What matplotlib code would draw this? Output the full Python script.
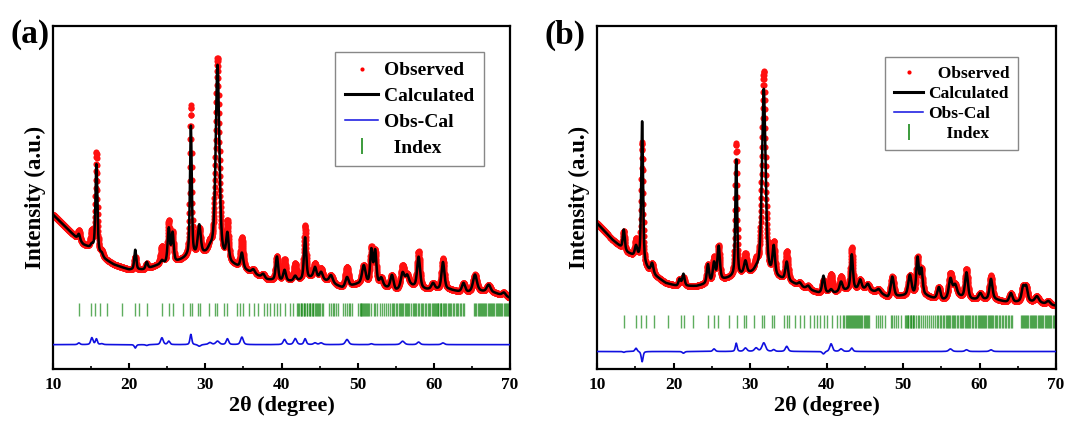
import numpy as np
import matplotlib
matplotlib.use("Agg")
import matplotlib.pyplot as plt
from matplotlib.lines import Line2D

plt.rcParams['font.family'] = ['Liberation Serif', 'DejaVu Serif']
plt.rcParams['font.weight'] = 'bold'

# ---------------- data (intensity in arbitrary units, 0..1 of plot height)
# Panel (a)
bg_a_x = [10, 12, 14, 15.3, 16.5, 18, 20, 22, 24, 26, 27.5, 30, 31, 33.5, 36, 38, 40, 42, 44, 46, 48, 50, 53, 55, 57, 59, 62, 64, 66, 68, 70]
bg_a_y = [0.450, 0.406, 0.362, 0.348, 0.323, 0.304, 0.289, 0.289, 0.304, 0.309, 0.323, 0.333, 0.338, 0.304, 0.280, 0.260, 0.255, 0.255, 0.265, 0.255, 0.236, 0.246, 0.241, 0.226, 0.241, 0.231, 0.231, 0.221, 0.226, 0.221, 0.207]
pk_a_pos = [13.4, 15.1, 15.7, 16.4, 20.8, 22.3, 24.3, 25.2, 25.7, 28.1, 29.2, 30.6, 31.6, 32.9, 34.8, 36.3, 37.6, 39.4, 40.4, 41.8, 43.1, 44.4, 45.2, 46.5, 48.6, 50.8, 51.8, 52.3, 53.1, 54.5, 55.9, 56.5, 58.0, 59.9, 61.2, 63.9, 65.4, 67.2, 69.2]
pk_a_calc = [0.018, 0.010, 0.257, 0.010, 0.058, 0.020, 0.010, 0.100, 0.085, 0.380, 0.085, 0.010, 0.555, 0.075, 0.045, 0.012, 0.012, 0.070, 0.032, 0.015, 0.122, 0.032, 0.022, 0.022, 0.028, 0.055, 0.100, 0.098, 0.022, 0.042, 0.045, 0.032, 0.090, 0.018, 0.080, 0.028, 0.050, 0.022, 0.010]
pk_a_obs_extra = [0.010, 0.040, 0.033, 0.005, -0.020, -0.005, 0.040, 0.020, 0.000, 0.060, -0.010, 0.012, 0.020, 0.034, 0.044, 0.000, 0.000, 0.000, 0.030, 0.035, 0.034, 0.010, 0.010, 0.000, 0.030, 0.000, 0.005, 0.000, 0.000, 0.000, 0.020, 0.000, 0.015, 0.000, 0.010, 0.000, 0.000, 0.000, 0.000]
pk_a_fwhm = [0.35, 0.35, 0.30, 0.40, 0.30, 0.35, 0.40, 0.35, 0.35, 0.28, 0.45, 0.50, 0.55, 0.38, 0.42, 0.50, 0.50, 0.38, 0.42, 0.45, 0.36, 0.45, 0.50, 0.55, 0.50, 0.55, 0.38, 0.38, 0.50, 0.50, 0.55, 0.55, 0.45, 0.50, 0.45, 0.50, 0.60, 0.60, 0.55]
idx_a = [13.37, 14.99, 15.55, 16.12, 17.08, 19.05, 20.80, 21.24, 22.33, 24.30, 25.17, 25.74, 27.05, 28.02, 28.24, 28.98, 29.33, 30.42, 31.30, 31.52, 32.48, 32.83, 34.14, 34.58, 34.93, 35.67, 36.33, 36.89, 37.64, 38.07, 38.51, 38.95, 39.39, 39.82, 40.48, 41.13, 41.57,
         42.0, 42.2, 42.35, 42.5, 42.6, 42.75, 42.9, 43.0, 43.15, 43.3, 43.4, 43.55, 43.7, 43.8, 43.95, 44.1, 44.2, 44.35, 44.5, 44.6, 44.8, 44.95, 45.1, 45.3, 45.45,
         46.2, 46.45, 46.7, 46.9, 47.2, 47.45, 48.1, 48.35, 48.6, 48.8, 49.05, 49.3,
         50.1, 50.25, 50.4, 50.5, 50.6, 50.75, 50.85, 51.0, 51.1, 51.25, 51.4, 51.55,
         51.8, 52.1, 52.3, 52.6, 52.9, 53.2, 53.4, 53.7, 53.95, 54.2, 54.45, 54.6, 54.8, 55.0, 55.2, 55.4, 55.55, 55.7, 55.85, 56.0, 56.2, 56.35, 56.5, 56.65, 56.8, 57.0, 57.2, 57.4, 57.55, 57.7, 57.9, 58.1, 58.25, 58.4, 58.6, 58.8, 59.0, 59.2, 59.4, 59.55, 59.7, 59.85, 60.0, 60.1, 60.25, 60.4, 60.5, 60.6, 60.75, 60.9, 61.0, 61.15, 61.3, 61.45, 61.6, 61.8, 62.0, 62.15, 62.3, 62.5, 62.7, 62.9, 63.05, 63.2, 63.4, 63.6, 63.8, 64.0,
         65.3, 65.45, 65.6, 65.75, 65.9, 66.0, 66.15, 66.3, 66.45, 66.6, 66.75, 66.9, 67.05, 67.2, 67.35, 67.5, 67.65, 67.8, 67.95, 68.1, 68.25, 68.4, 68.55, 68.7, 68.85, 69.0, 69.15, 69.3, 69.45, 69.6, 69.75, 69.9]

# Panel (b)
bg_b_x = [10, 12, 14, 15.3, 17, 19, 20.5, 23, 25, 27.5, 30, 31, 33.5, 35.5, 37, 39, 41, 43, 45, 47, 48, 50, 53, 55, 57, 59, 62, 64, 66, 68, 70]
bg_b_y = [0.425, 0.377, 0.338, 0.323, 0.280, 0.250, 0.241, 0.241, 0.250, 0.265, 0.275, 0.280, 0.265, 0.250, 0.236, 0.221, 0.221, 0.231, 0.231, 0.221, 0.207, 0.212, 0.212, 0.197, 0.212, 0.202, 0.202, 0.192, 0.197, 0.192, 0.184]
pk_b_pos = [13.5, 15.1, 15.9, 17.2, 20.8, 21.3, 24.5, 25.3, 25.9, 28.2, 29.4, 30.8, 31.8, 33.1, 34.8, 36.5, 37.6, 39.6, 40.6, 41.9, 43.3, 44.4, 45.4, 46.8, 48.6, 50.9, 51.9, 52.4, 54.7, 56.2, 56.8, 58.3, 60.1, 61.5, 64.1, 65.7, 66.1, 67.5, 69.0]
pk_b_calc = [0.058, 0.030, 0.413, 0.030, 0.020, 0.035, 0.055, 0.055, 0.100, 0.340, 0.038, 0.005, 0.540, 0.082, 0.055, 0.010, 0.010, 0.050, 0.010, 0.028, 0.102, 0.028, 0.018, 0.010, 0.060, 0.060, 0.108, 0.075, 0.038, 0.055, 0.032, 0.075, 0.018, 0.060, 0.028, 0.040, 0.040, 0.018, 0.010]
pk_b_obs_extra = [-0.005, 0.020, -0.060, 0.000, 0.000, -0.010, 0.000, 0.015, 0.000, 0.048, 0.020, 0.020, 0.050, 0.010, 0.030, 0.000, 0.000, -0.015, 0.045, 0.015, 0.020, 0.000, 0.000, 0.000, 0.000, 0.000, 0.000, 0.000, 0.000, 0.015, 0.000, 0.010, 0.000, 0.010, 0.000, 0.000, 0.000, 0.000, 0.000]
pk_b_fwhm = [0.30, 0.35, 0.28, 0.40, 0.35, 0.35, 0.35, 0.38, 0.38, 0.28, 0.45, 0.50, 0.55, 0.38, 0.42, 0.50, 0.50, 0.38, 0.42, 0.45, 0.36, 0.45, 0.50, 0.55, 0.48, 0.50, 0.38, 0.40, 0.50, 0.50, 0.55, 0.45, 0.50, 0.45, 0.50, 0.45, 0.45, 0.60, 0.55]
idx_b = [13.57, 15.10, 15.75, 16.40, 17.41, 19.24, 20.98, 21.42, 22.50, 24.55, 25.34, 25.86, 27.21, 28.30, 29.17, 29.48, 30.57, 31.52, 31.79, 32.83, 33.18, 34.40, 34.84, 35.14, 35.88, 36.58, 37.10, 37.89, 38.32, 38.76, 39.20, 39.63, 40.06, 40.67, 41.37, 41.81,
         42.2, 42.35, 42.5, 42.65, 42.8, 42.95, 43.05, 43.2, 43.35, 43.5, 43.6, 43.75, 43.9, 44.0, 44.15, 44.3, 44.4, 44.55, 44.7, 44.85, 45.0, 45.15, 45.3, 45.45, 45.6,
         46.5, 46.75, 47.0, 47.2, 47.6, 48.4, 48.6, 48.85, 49.1, 49.4, 49.7,
         50.2, 50.35, 50.5, 50.6, 50.7, 50.85, 51.0, 51.1, 51.25, 51.35, 51.5, 51.7, 51.9,
         52.1, 52.35, 52.6, 52.9, 53.2, 53.45, 53.7, 53.9, 54.15, 54.4, 54.6, 54.8, 55.0, 55.2, 55.4, 55.6, 55.75, 55.9, 56.05, 56.2, 56.4, 56.55, 56.7, 56.85, 57.0, 57.2, 57.4, 57.6, 57.75, 57.9, 58.05, 58.2, 58.35, 58.5, 58.65, 58.8, 59.0, 59.2, 59.4, 59.6, 59.75, 59.9, 60.05, 60.2, 60.35, 60.5, 60.6, 60.75, 60.9, 61.05, 61.2, 61.35, 61.5, 61.65, 61.8, 62.0, 62.2, 62.35, 62.5, 62.7, 62.9, 63.1, 63.3, 63.5, 63.7, 63.9, 64.1, 64.3,
         65.4, 65.55, 65.7, 65.85, 66.0, 66.1, 66.25, 66.4, 66.55, 66.7, 66.85, 67.0, 67.15, 67.3, 67.45, 67.6, 67.75, 67.9, 68.05, 68.2, 68.35, 68.5, 68.65, 68.8, 68.95, 69.1, 69.25, 69.4, 69.55, 69.7, 69.85]

xticks = [10, 20, 30, 40, 50, 60, 70]
minor_xticks = [15, 25, 35, 45, 55, 65]
panel_labels = ['(a)', '(b)']
legend_labels = [['Observed', 'Calculated', 'Obs-Cal', '  Index'],
                 ['  Observed', 'Calculated', 'Obs-Cal', '    Index']]
idx_level = [0.173, 0.139]
diff_level = [0.071, 0.051]
diff_scale = 0.5

# ---------------- helpers
def pv(x, p, w):
    g = np.exp(-4 * np.log(2) * (x - p) ** 2 / w ** 2)
    l = 1.0 / (1.0 + 4 * (x - p) ** 2 / w ** 2)
    return 0.5 * g + 0.5 * l

def profile(x, bgx, bgy, pos, h, w):
    y = np.interp(x, bgx, bgy)
    for p, hh, ww in zip(pos, h, w):
        y = y + hh * pv(x, p, ww)
    return y

tt = np.arange(10.0, 70.0001, 0.02)

fig = plt.figure(figsize=(10.88, 4.30), dpi=100)
axes = [fig.add_axes([53/1088, 61/430, 457/1088, 343/430]),
        fig.add_axes([597/1088, 61/430, 459/1088, 343/430])]

panels = [
    (bg_a_x, bg_a_y, pk_a_pos, pk_a_calc, pk_a_obs_extra, pk_a_fwhm, idx_a),
    (bg_b_x, bg_b_y, pk_b_pos, pk_b_calc, pk_b_obs_extra, pk_b_fwhm, idx_b),
]
leg_anchor = [(0.943, 0.924), (0.917, 0.910)]
leg_fs = [14, 12.5]
leg_spacing = [0.42, 0.22]

for i, (ax, pdat) in enumerate(zip(axes, panels)):
    bgx, bgy, pos, hc, hx, w, idx = pdat
    calc = profile(tt, bgx, bgy, pos, hc, w)
    extra = profile(tt, [10, 70], [0, 0], pos, hx, w)
    obs = calc + extra
    diff = diff_scale * (obs - calc) + diff_level[i]
    ax.plot(tt, obs, 'o', color='#ff1010', ms=4.4, mew=0, zorder=2)
    ax.plot(tt, calc, '-', color='black', lw=1.8, zorder=3)
    ax.plot(tt, diff, '-', color='#1010e0', lw=1.2, zorder=3)
    ax.vlines(idx, idx_level[i] - 0.019, idx_level[i] + 0.019, color='#1a8a1a', lw=1.0, alpha=0.7, zorder=2)
    ax.set_xlim(10, 70)
    ax.set_ylim(0, 1)
    ax.set_xticks(xticks)
    ax.set_xticks(minor_xticks, minor=True)
    ax.set_yticks([])
    ax.tick_params(axis='x', which='major', direction='in', length=4, width=1.5, labelsize=12.5, pad=6)
    ax.tick_params(axis='x', which='minor', direction='in', length=2.5, width=1.2)
    for lab in ax.get_xticklabels():
        lab.set_fontweight('bold')
    for s in ax.spines.values():
        s.set_linewidth(1.6)
    ax.set_xlabel('2θ (degree)', fontsize=16, fontweight='bold', labelpad=2)
    ax.set_ylabel('Intensity (a.u.)', fontsize=16.5, fontweight='bold', labelpad=5)
    handles = [Line2D([], [], ls='none', marker='o', color='red', ms=3, mew=0),
               Line2D([], [], color='black', lw=2.2),
               Line2D([], [], color='#1010e0', lw=1.1),
               Line2D([], [], ls='none', marker='|', color='#1a8a1a', ms=11, mew=1.2)]
    leg = ax.legend(handles, legend_labels[i], loc='upper right',
                    bbox_to_anchor=leg_anchor[i], fancybox=False, framealpha=1, edgecolor='#888888',
                    prop={'size': leg_fs[i], 'weight': 'bold'}, handlelength=1.7, handletextpad=0.3,
                    labelspacing=leg_spacing[i], borderpad=0.5, borderaxespad=0)
    leg.get_frame().set_linewidth(1.0)

fig.text(11/1088, 1 - 35/430, panel_labels[0], fontsize=24, fontweight='bold', va='center', ha='left')
fig.text(544/1088, 1 - 35/430, panel_labels[1], fontsize=24, fontweight='bold', va='center', ha='left')

fig.savefig('out.png', dpi=100)
